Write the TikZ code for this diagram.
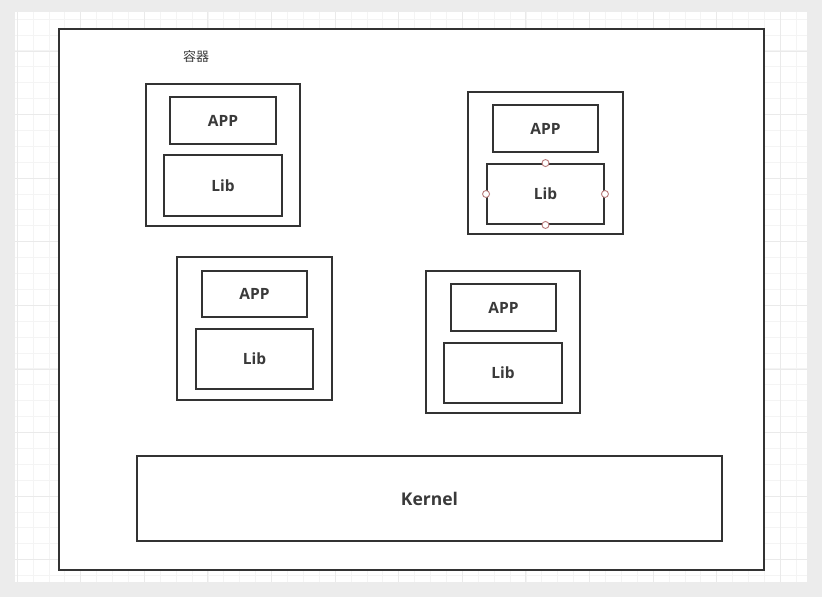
\documentclass[tikz,border=0pt]{standalone}
\usepackage{fontspec}
\setmainfont{Open Sans}
\newfontfamily\cjk{Noto Sans CJK SC}
\begin{document}
\begin{tikzpicture}[x=1pt,y=-1pt,
  box/.style={draw=linec, line width=1.9pt, inner sep=0pt, fill=white},
  txt/.style={font=\bfseries\fontsize{15.5}{18}\selectfont, text=textc},
  handle/.style={circle, draw=handc, fill=white, line width=0.9pt, minimum size=7pt, inner sep=0pt}]
\definecolor{linec}{HTML}{333333}
\definecolor{textc}{HTML}{3A3A3A}
\definecolor{handc}{HTML}{B87A7A}
\definecolor{bgc}{HTML}{ECECEC}
\definecolor{gridminor}{HTML}{F4F4F4}
\definecolor{gridmajor}{HTML}{EAEAEA}
\useasboundingbox (0,0) rectangle (830,611);
\fill[white] (0,0) rectangle (830,611);
\fill[bgc] (0,0) rectangle (822,597);
\fill[white] (15,12) rectangle (807,582);
% grid
\begin{scope}
\clip (15,12) rectangle (807,582);
\foreach \i in {-1,...,50} {
  \draw[gridminor, line width=0.6pt] ({17+15.9*\i},12) -- ({17+15.9*\i},582);
  \draw[gridminor, line width=0.6pt] (15,{3+15.9*\i}) -- (807,{3+15.9*\i});
}
\foreach \i in {0,...,13} {
  \draw[gridmajor, line width=0.7pt] ({17+63.6*\i},12) -- ({17+63.6*\i},582);
  \draw[gridmajor, line width=0.7pt] (15,{-12.6+63.6*\i}) -- (807,{-12.6+63.6*\i});
}
\end{scope}
% outer frame
\node[box, minimum width=705pt, minimum height=541pt] (outer) at (411.5,299.5) {};
\node[font=\cjk\fontsize{13}{15}\selectfont, text=textc] (label) at (196,57) {容器};
% container 1
\node[box, minimum width=154pt, minimum height=142pt] (c1) at (223,155) {};
\node[box, txt, minimum width=106pt, minimum height=47pt] (app1) at (223,120.5) {APP};
\node[box, txt, minimum width=118pt, minimum height=61pt] (lib1) at (223,185.5) {Lib};
% container 2
\node[box, minimum width=155pt, minimum height=142pt] (c2) at (545.5,163) {};
\node[box, txt, minimum width=105pt, minimum height=47pt] (app2) at (545.5,128.5) {APP};
\node[box, txt, minimum width=117pt, minimum height=60pt] (lib2) at (545.5,194) {Lib};
\node[handle] (h1) at (lib2.north) {};
\node[handle] (h2) at (lib2.south) {};
\node[handle] (h3) at (lib2.west) {};
\node[handle] (h4) at (lib2.east) {};
% container 3
\node[box, minimum width=155pt, minimum height=143pt] (c3) at (254.5,328.5) {};
\node[box, txt, minimum width=105pt, minimum height=46pt] (app3) at (254.5,294) {APP};
\node[box, txt, minimum width=117pt, minimum height=60pt] (lib3) at (254.5,359) {Lib};
% container 4
\node[box, minimum width=154pt, minimum height=142pt] (c4) at (503,342) {};
\node[box, txt, minimum width=105pt, minimum height=47pt] (app4) at (503.5,307.5) {APP};
\node[box, txt, minimum width=118pt, minimum height=60pt] (lib4) at (503,373) {Lib};
% kernel
\node[box, font=\bfseries\fontsize{17.5}{20}\selectfont, text=textc, minimum width=585pt, minimum height=85pt] (kernel) at (429.5,498.5) {Kernel};
\end{tikzpicture}
\end{document}
